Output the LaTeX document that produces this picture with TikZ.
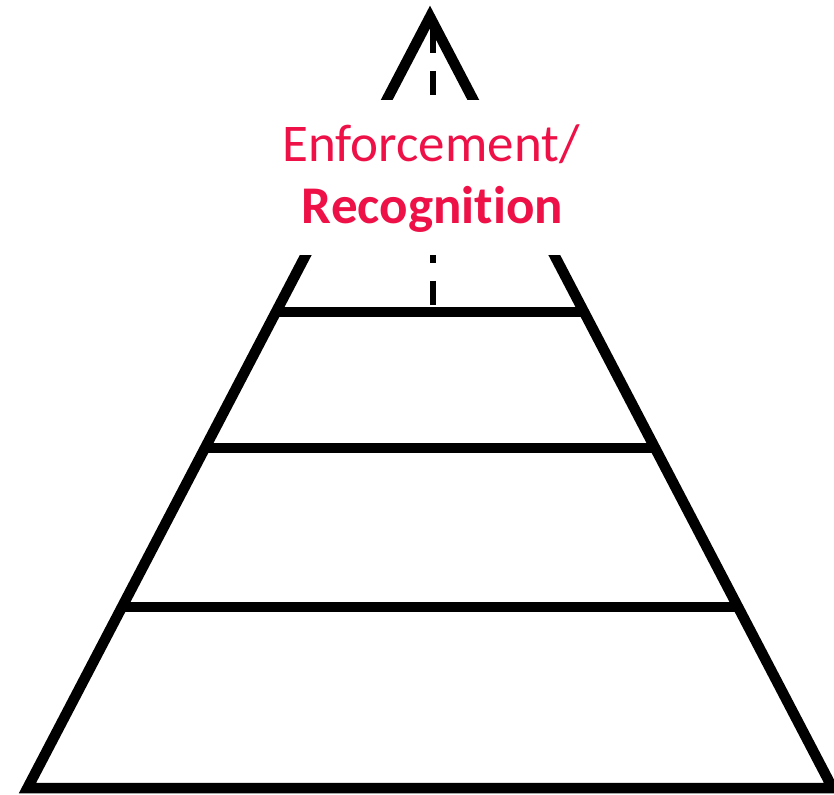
\documentclass[tikz,border=0pt]{standalone}
\usepackage{fontspec}
\setmainfont{Carlito}[Ligatures=NoCommon]
\definecolor{lblred}{RGB}{238,17,72}
\begin{document}
\begin{tikzpicture}[x=1pt,y=1pt,
  edge/.style={line width=10.5pt, line join=miter, miter limit=10},
  rung/.style={line width=10.5pt},
  axis/.style={line width=6pt, dash pattern=on 24pt off 18pt},
  lbl/.style={text=lblred, inner sep=0pt, anchor=base, font=\fontsize{53}{61}\selectfont}]
\useasboundingbox (0,0) rectangle (834,794);
\clip (0,0) rectangle (834,794);
\fill[white] (0,0) rectangle (834,794);
\coordinate (apex) at (430,777);
\coordinate (bl) at (27.5,6);
\coordinate (br) at (832.5,6);
\coordinate (l1) at (276,482); \coordinate (r1) at (584,482);
\coordinate (l2) at (205,346); \coordinate (r2) at (655,346);
\coordinate (l3) at (122,187); \coordinate (r3) at (738,187);
\coordinate (dtop) at (433,765);
\coordinate (dbot) at (433,489);
\draw[edge] (apex) -- (bl) -- (br) -- cycle;
\draw[rung] (l1) -- (r1);
\draw[rung] (l2) -- (r2);
\draw[rung] (l3) -- (r3);
\draw[axis] (dtop) -- (dbot);
\fill[white] (270,539) rectangle (590,694);
\node[lbl] (t1) at (431,632) {Enforcement/};
\node[lbl,font=\fontsize{53}{61}\selectfont\bfseries] (t2) at (432.5,570) {Recognition};
\end{tikzpicture}
\end{document}
